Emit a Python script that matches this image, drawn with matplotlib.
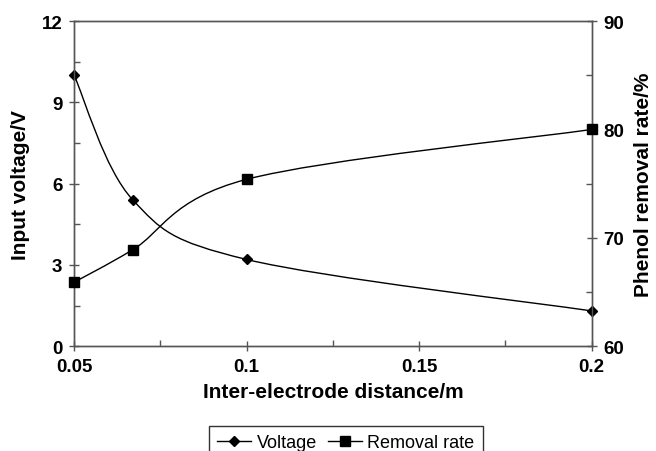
import numpy as np
import matplotlib
matplotlib.use('Agg')
from matplotlib import pyplot as plt
from matplotlib.path import Path
from matplotlib.patches import PathPatch
from matplotlib.lines import Line2D
from matplotlib.ticker import MultipleLocator

distance = [0.05, 0.067, 0.1, 0.2]
voltage = [10.0, 5.4, 3.2, 1.3]
removal_rate = [65.9, 68.9, 75.4, 80.0]

plt.rcParams['font.family'] = ['Liberation Sans', 'DejaVu Sans']


def smooth_path(xs, ys):
    # Catmull-Rom style bezier segments through the points (like a spreadsheet "smoothed line")
    pts = np.column_stack([xs, ys]).astype(float)
    ext = np.vstack([pts[0], pts, pts[-1]])
    verts = [pts[0]]
    codes = [Path.MOVETO]
    for i in range(1, len(ext) - 2):
        p0, p1, p2, p3 = ext[i - 1], ext[i], ext[i + 1], ext[i + 2]
        c1 = p1 + (p2 - p0) / 6.0
        c2 = p2 - (p3 - p1) / 6.0
        verts += [c1, c2, p2]
        codes += [Path.CURVE4] * 3
    return Path(verts, codes)


fig = plt.figure(figsize=(6.56, 4.52), dpi=100)
ax = fig.add_axes([0.113, 0.232, 0.789, 0.719])
ax2 = ax.twinx()

ax.add_patch(PathPatch(smooth_path(distance, voltage), fill=False, color='black', lw=1.0))
ax.plot(distance, voltage, linestyle='none', marker='D', color='black', markersize=5.5,
        clip_on=False, zorder=5)
ax2.add_patch(PathPatch(smooth_path(distance, removal_rate), fill=False, color='black', lw=1.0))
ax2.plot(distance, removal_rate, linestyle='none', marker='s', color='black', markersize=7,
         clip_on=False, zorder=5)

ax.set_xlim(0.05, 0.2)
ax.set_ylim(0, 12)
ax2.set_ylim(60, 90)
ax.set_xticks([0.05, 0.1, 0.15, 0.2])
ax.set_xticklabels(['0.05', '0.1', '0.15', '0.2'])
ax.xaxis.set_minor_locator(MultipleLocator(0.025))
ax.set_yticks([0, 3, 6, 9, 12])
ax.yaxis.set_minor_locator(MultipleLocator(1.5))
ax2.set_yticks([60, 70, 80, 90])
ax2.yaxis.set_minor_locator(MultipleLocator(5))

for a in (ax, ax2):
    for s in a.spines.values():
        s.set_color('#555555')
        s.set_linewidth(1.0)
    a.tick_params(which='major', direction='inout', length=7, width=1.0, color='#555555',
                  labelsize=13.5, pad=5)
    a.tick_params(which='minor', direction='in', length=4, width=1.0, color='#555555')
    for lab in a.get_xticklabels() + a.get_yticklabels():
        lab.set_fontweight('bold')
ax.tick_params(axis='x', which='minor', top=False)
ax.tick_params(axis='x', top=False)

ax.set_xlabel('Inter-electrode distance/m', fontsize=15, fontweight='bold', labelpad=5)
ax.set_ylabel('Input voltage/V', fontsize=15, fontweight='bold', labelpad=8)
ax2.set_ylabel('Phenol removal rate/%', fontsize=15, fontweight='bold', labelpad=7)

handles = [Line2D([], [], color='black', lw=1.0, marker='D', markersize=5.5),
           Line2D([], [], color='black', lw=1.0, marker='s', markersize=7)]
leg = fig.legend(handles, ['Voltage', 'Removal rate'], loc='upper center',
                 bbox_to_anchor=(0.527, 1 - 427 / 452), ncol=2, fontsize=13, frameon=True,
                 fancybox=False, edgecolor='black', borderpad=0.45, handlelength=1.9,
                 handletextpad=0.3, columnspacing=0.6, borderaxespad=0)
leg.get_frame().set_linewidth(1.0)

fig.savefig('out.png', dpi=100)
